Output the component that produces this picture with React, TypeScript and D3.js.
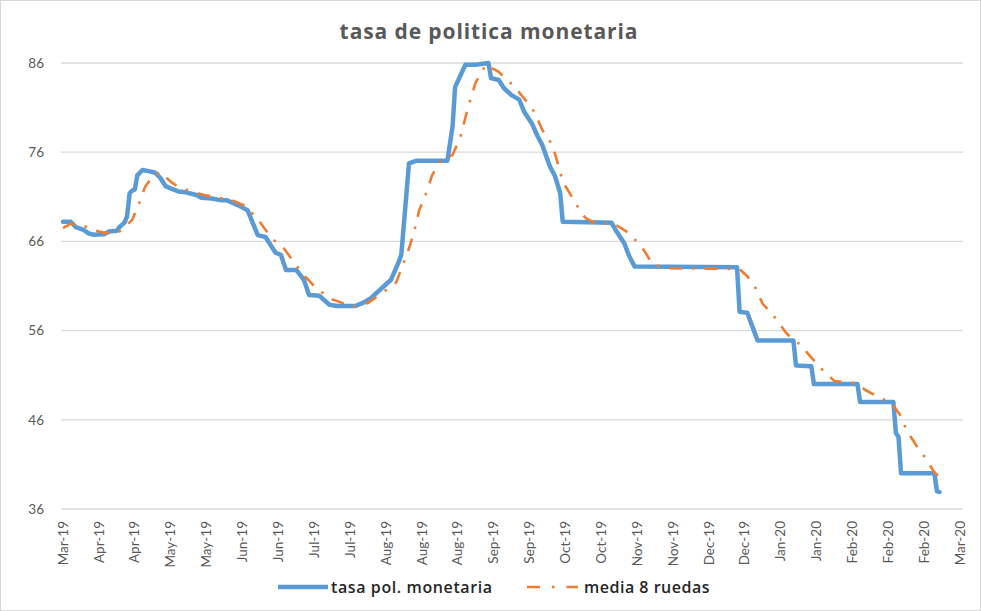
import React from "react";
import * as d3 from "d3";

const chartTitle = "tasa de politica monetaria";
const seriesNames = ["tasa pol. monetaria", "media 8 ruedas"];
const yTicks = [36, 46, 56, 66, 76, 86];
const axisStart = "2019-03-30";
const axisEnd = "2020-03-14";
const tickStepDays = 14;

const tasaDates = [
  "2019-03-30", "2019-04-02", "2019-04-04", "2019-04-07", "2019-04-09", "2019-04-11", "2019-04-15", "2019-04-17",
  "2019-04-20", "2019-04-21", "2019-04-23", "2019-04-24", "2019-04-25", "2019-04-26", "2019-04-27", "2019-04-28",
  "2019-04-30", "2019-05-02", "2019-05-05", "2019-05-07", "2019-05-09", "2019-05-11", "2019-05-14", "2019-05-17",
  "2019-05-21", "2019-05-23", "2019-05-27", "2019-05-31", "2019-06-02", "2019-06-06", "2019-06-10", "2019-06-11",
  "2019-06-14", "2019-06-17", "2019-06-19", "2019-06-21", "2019-06-23", "2019-06-25", "2019-06-29", "2019-07-02",
  "2019-07-04", "2019-07-08", "2019-07-10", "2019-07-12", "2019-07-15", "2019-07-22", "2019-07-25", "2019-07-28",
  "2019-07-31", "2019-08-05", "2019-08-08", "2019-08-09", "2019-08-12", "2019-08-15", "2019-08-27", "2019-08-29",
  "2019-08-30", "2019-09-03", "2019-09-07", "2019-09-12", "2019-09-13", "2019-09-16", "2019-09-18", "2019-09-21",
  "2019-09-24", "2019-09-26", "2019-09-29", "2019-10-01", "2019-10-03", "2019-10-06", "2019-10-08", "2019-10-10",
  "2019-10-11", "2019-10-30", "2019-11-01", "2019-11-04", "2019-11-06", "2019-11-08", "2019-12-18", "2019-12-19",
  "2019-12-22", "2019-12-26", "2020-01-09", "2020-01-10", "2020-01-16", "2020-01-17", "2020-02-03", "2020-02-04",
  "2020-02-17", "2020-02-18", "2020-02-19", "2020-02-20", "2020-03-04", "2020-03-05", "2020-03-06"
];
const tasaValues = [
  68.2, 68.2, 67.6, 67.3, 66.9, 66.75, 66.8, 67.1,
  67.2, 67.6, 68.1, 68.8, 71.4, 71.7, 71.8, 73.4,
  74.0, 73.9, 73.7, 73.1, 72.2, 71.95, 71.6, 71.5,
  71.2, 70.9, 70.8, 70.6, 70.6, 70.1, 69.5, 68.8,
  66.7, 66.5, 65.6, 64.7, 64.5, 62.8, 62.8, 61.7,
  60.0, 59.9, 59.4, 58.9, 58.75, 58.75, 59.1, 59.6,
  60.4, 61.7, 63.7, 64.5, 74.75, 75.05, 75.05, 78.9,
  83.3, 85.8, 85.8, 86.0, 84.3, 84.1, 83.2, 82.4,
  81.9, 80.5, 79.2, 77.9, 76.8, 74.4, 73.3, 71.4,
  68.2, 68.1, 67.1, 65.8, 64.3, 63.2, 63.1, 58.1,
  58.0, 54.9, 54.9, 52.1, 52.0, 50.0, 50.0, 48.0,
  48.0, 44.5, 44.1, 40.0, 40.0, 38.0, 37.9
];

const mediaDates = [
  "2019-03-30", "2019-04-02", "2019-04-08", "2019-04-13", "2019-04-16", "2019-04-21", "2019-04-26", "2019-04-29",
  "2019-05-01", "2019-05-03", "2019-05-07", "2019-05-11", "2019-05-14", "2019-05-19", "2019-05-24", "2019-05-28",
  "2019-06-04", "2019-06-09", "2019-06-14", "2019-06-17", "2019-06-20", "2019-06-24", "2019-06-28", "2019-07-02",
  "2019-07-07", "2019-07-13", "2019-07-19", "2019-07-22", "2019-07-27", "2019-08-01", "2019-08-07", "2019-08-12",
  "2019-08-14", "2019-08-16", "2019-08-19", "2019-08-21", "2019-08-24", "2019-08-29", "2019-09-01", "2019-09-04",
  "2019-09-07", "2019-09-11", "2019-09-16", "2019-09-22", "2019-09-26", "2019-09-30", "2019-10-03", "2019-10-07",
  "2019-10-09", "2019-10-11", "2019-10-15", "2019-10-18", "2019-10-20", "2019-10-24", "2019-10-30", "2019-11-01",
  "2019-11-06", "2019-11-11", "2019-11-15", "2019-11-20", "2019-12-19", "2019-12-22", "2019-12-25", "2019-12-28",
  "2020-01-02", "2020-01-06", "2020-01-09", "2020-01-12", "2020-01-15", "2020-01-21", "2020-01-25", "2020-02-02",
  "2020-02-07", "2020-02-12", "2020-02-16", "2020-02-20", "2020-02-22", "2020-02-26", "2020-03-01", "2020-03-04",
  "2020-03-06"
];
const mediaValues = [
  67.5, 68.0, 67.65, 67.1, 66.9, 67.1, 68.4, 70.5,
  72.1, 72.9, 73.8, 72.7, 72.1, 71.6, 71.2, 71.0,
  70.6, 70.0, 68.5, 67.3, 66.2, 65.3, 63.7, 62.2,
  60.7, 59.5, 58.9, 58.7, 59.1, 60.1, 61.4, 65.2,
  67.1, 69.5, 71.6, 73.4, 74.9, 75.7, 77.6, 81.0,
  83.8, 85.8, 85.0, 83.4, 82.0, 80.5, 78.5, 76.8,
  74.8, 72.7, 70.8, 69.3, 68.6, 68.0, 68.0, 67.8,
  66.9, 65.3, 63.5, 63.0, 62.9, 62.1, 60.9, 59.0,
  57.4, 55.8, 54.9, 54.4, 53.3, 51.4, 50.35, 50.1,
  49.2, 48.4, 48.0, 46.4, 44.9, 43.1, 41.5, 40.1,
  39.6
];

const BLUE = "#5B9BD5";
const ORANGE = "#ED7D31";
const GRID = "#D9D9D9";
const TEXT = "#595959";
const FONT = "Lato, 'Open Sans', sans-serif";
const FONT_WIDE = "'Open Sans', Lato, sans-serif";
const DASH = "13,10,2.5,10";

type Pt = { d: Date; v: number };

export default function App() {
  const W = 981;
  const H = 611;
  const parse = d3.timeParse("%Y-%m-%d");
  const start = parse(axisStart) as Date;
  const end = parse(axisEnd) as Date;

  const x = d3.scaleTime().domain([start, end]).range([63, 960]);
  const y = d3.scaleLinear().domain([36, 86]).range([509, 63]);

  const tasa: Pt[] = tasaDates.map((s, i) => ({ d: parse(s) as Date, v: tasaValues[i] }));
  const media: Pt[] = mediaDates.map((s, i) => ({ d: parse(s) as Date, v: mediaValues[i] }));

  const line = d3
    .line<Pt>()
    .x((p) => x(p.d))
    .y((p) => y(p.v));

  const xTicks = d3.timeDay.range(start, d3.timeDay.offset(end, 1), tickStepDays);
  const fmt = d3.timeFormat("%b-%y");

  const gridX0 = 61;
  const gridX1 = 963;

  return (
    <svg
      width={W}
      height={H}
      viewBox={`0 0 ${W} ${H}`}
      style={{ position: "absolute", left: 0, top: 0, background: "#fff" }}
      fontFamily={FONT}
    >
      <rect x={0.5} y={0.5} width={W - 1} height={H - 1} fill="#fff" stroke={GRID} />
      <text
        x={489}
        y={39}
        textAnchor="middle"
        fontSize={21}
        fontWeight="bold"
        letterSpacing={0.9}
        fill={TEXT}
        fontFamily={FONT_WIDE}
      >
        {chartTitle}
      </text>

      {yTicks.map((t) => (
        <g key={t}>
          <line x1={gridX0} x2={gridX1} y1={y(t)} y2={y(t)} stroke={GRID} strokeWidth={1.3} />
          <text x={44} y={y(t)} dy="0.35em" textAnchor="end" fontSize={13.5} fill={TEXT}>
            {t}
          </text>
        </g>
      ))}

      {xTicks.map((t, i) => (
        <text
          key={i}
          transform={`translate(${x(t)},${521}) rotate(-90)`}
          textAnchor="end"
          dy="0.35em"
          fontSize={13.5}
          fill={TEXT}
        >
          {fmt(t)}
        </text>
      ))}

      <path d={line(tasa) || ""} fill="none" stroke={BLUE} strokeWidth={4.5} strokeLinejoin="round" strokeLinecap="round" />
      <path d={line(media) || ""} fill="none" stroke={ORANGE} strokeWidth={2.6} strokeDasharray={DASH} />

      <g fontFamily={FONT_WIDE}>
        <line x1={278} x2={328} y1={587} y2={587} stroke={BLUE} strokeWidth={4.5} />
        <text x={331} y={587} dy="0.35em" fontSize={16} fontWeight={600} letterSpacing={0.6} fill="#262626">
          {seriesNames[0]}
        </text>
        <line x1={527} x2={578} y1={587} y2={587} stroke={ORANGE} strokeWidth={2.6} strokeDasharray="13,12,2.5,12" />
        <text x={584} y={587} dy="0.35em" fontSize={16} fontWeight={600} letterSpacing={0.5} fill="#262626">
          {seriesNames[1]}
        </text>
      </g>
    </svg>
  );
}
